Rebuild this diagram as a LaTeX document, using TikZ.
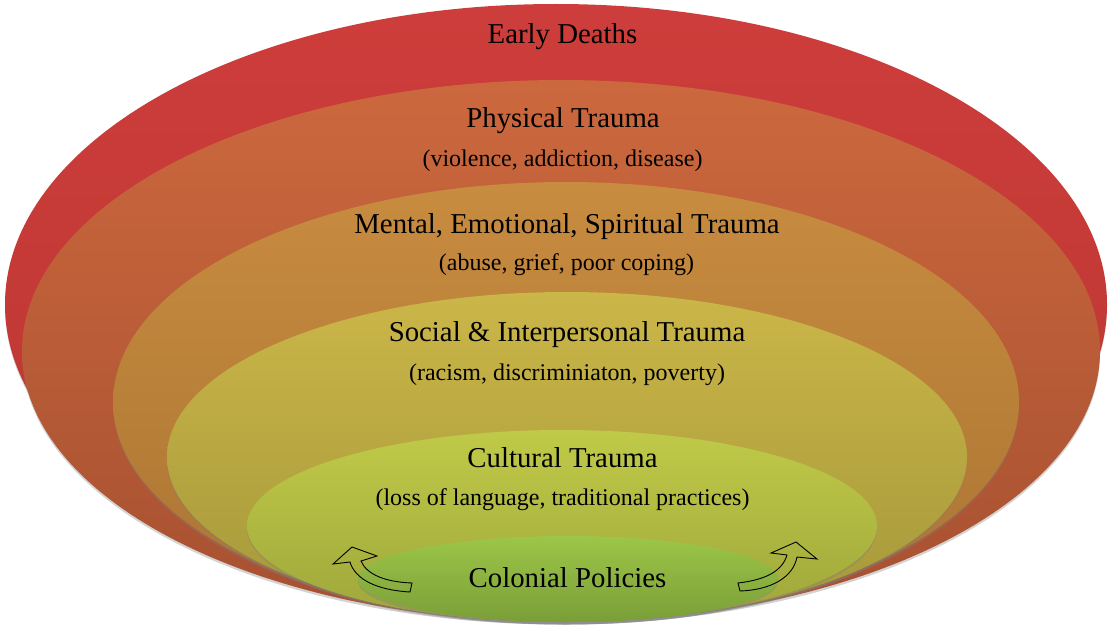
\documentclass[tikz,border=0pt]{standalone}
\usepackage{fontspec}
\setmainfont{Liberation Serif}
\usepackage{tikz}
\usetikzlibrary{shapes.geometric,shadows}
\definecolor{tmred}{RGB}{205,61,59}
\definecolor{tmreddk}{RGB}{186,54,48}
\definecolor{tmorange}{RGB}{204,104,62}
\definecolor{tmorangedk}{RGB}{166,80,48}
\definecolor{tmamber}{RGB}{200,140,64}
\definecolor{tmamberdk}{RGB}{170,116,50}
\definecolor{tmyellow}{RGB}{203,182,72}
\definecolor{tmyellowdk}{RGB}{164,152,58}
\definecolor{tmlime}{RGB}{192,202,72}
\definecolor{tmlimedk}{RGB}{158,166,58}
\definecolor{tmgreen}{RGB}{156,198,72}
\definecolor{tmgreendk}{RGB}{122,158,56}

\begin{document}
\begin{tikzpicture}[x=1pt,y=-1pt,
    ring/.style={ellipse,inner sep=0pt,drop shadow={shadow xshift=0pt,shadow yshift=-2.5pt,opacity=.35}},
    ringlbl/.style={anchor=base,font=\fontsize{28.8}{34}\selectfont},
    ringsub/.style={anchor=base,font=\fontsize{24}{28}\selectfont},
    curlarrow/.style={draw=black,line width=.9pt,line join=miter}]
        \useasboundingbox (0,0) rectangle (1110,626);
        % nested rings, outermost first
        \node[ring,minimum width=1102pt,minimum height=601pt,top color=tmred,bottom color=tmreddk] (deaths) at (556,304.5) {};
        \node[ring,minimum width=1078pt,minimum height=542pt,top color=tmorange,bottom color=tmorangedk] (physical) at (561,351) {};
        \node[ring,minimum width=906pt,minimum height=440pt,top color=tmamber,bottom color=tmamberdk] (mental) at (566,402) {};
        \node[ring,minimum width=800pt,minimum height=330pt,top color=tmyellow,bottom color=tmyellowdk] (social) at (567,457) {};
        \node[ring,minimum width=630pt,minimum height=192pt,top color=tmlime,bottom color=tmlimedk] (cultural) at (562,526) {};
        \node[ring,minimum width=420pt,minimum height=86pt,top color=tmgreen,bottom color=tmgreendk] (colonial) at (568,579) {};
        % labels
        \node[ringlbl] (deathslbl) at (562.5,44) {Early Deaths};
        \node[ringlbl] (physicallbl) at (563,127) {Physical Trauma};
        \node[ringsub] (physicalsub) at (562.5,166) {(violence, addiction, disease)};
        \node[ringlbl] (mentallbl) at (567,233) {Mental, Emotional, Spiritual Trauma};
        \node[ringsub] (mentalsub) at (566.5,270) {(abuse, grief, poor coping)};
        \node[ringlbl] (sociallbl) at (567,341) {Social \& Interpersonal Trauma};
        \node[ringsub] (socialsub) at (567,380) {(racism, discriminiaton, poverty)};
        \node[ringlbl] (culturallbl) at (562.5,467) {Cultural Trauma};
        \node[ringsub] (culturalsub) at (562.5,505) {(loss of language, traditional practices)};
        \node[ringlbl] (coloniallbl) at (567.5,587) {Colonial Policies};
        % curved outline arrows
        \draw[curlarrow] (410,592) .. controls (376,590) and (355,579) .. (350,562)
            -- (333,564) -- (352,547) -- (377,556) -- (361,561)
            .. controls (367,575) and (386,582) .. (412,583) -- cycle;
        \draw[curlarrow] (738,583) .. controls (764,580) and (782,572) .. (787,555)
            -- (771,553) -- (796,542) -- (817,559) -- (797,557)
            .. controls (793,578) and (770,590) .. (740,591) -- cycle;
      \end{tikzpicture}
\end{document}
